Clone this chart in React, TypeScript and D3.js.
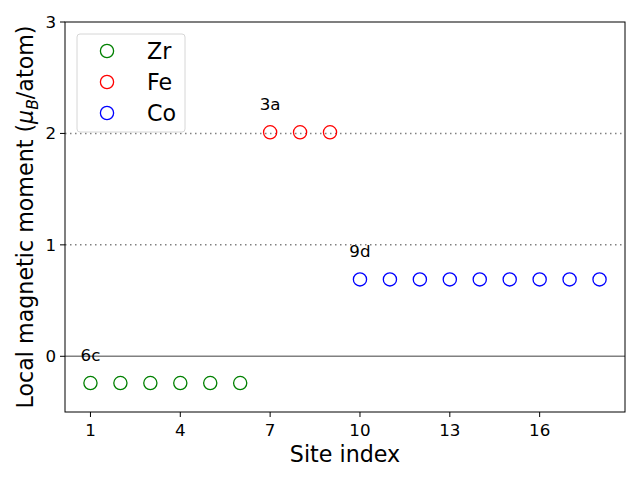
import React from "react";
import * as d3 from "d3";

const zrSites = [1, 2, 3, 4, 5, 6];
const zrValues = [-0.24, -0.24, -0.24, -0.24, -0.24, -0.24];
const feSites = [7, 8, 9];
const feValues = [2.01, 2.01, 2.01];
const coSites = [10, 11, 12, 13, 14, 15, 16, 17, 18];
const coValues = [0.69, 0.69, 0.69, 0.69, 0.69, 0.69, 0.69, 0.69, 0.69];
const xTicks = [1, 4, 7, 10, 13, 16];
const yTicks = [0, 1, 2, 3];
const refLines = [1, 2];
const siteLabels = ["6c", "3a", "9d"];

const W = 640, H = 480;
const M = { left: 65, right: 625, top: 22, bottom: 412 };
const FONT = "DejaVu Sans, sans-serif";

export default function App() {
  const x = d3.scaleLinear().domain([0.15, 18.85]).range([M.left, M.right]);
  const y = d3.scaleLinear().domain([-0.5, 3]).range([M.bottom, M.top]);
  const groups = [
    { name: "Zr", color: "green", sites: zrSites, values: zrValues, label: siteLabels[0] },
    { name: "Fe", color: "red", sites: feSites, values: feValues, label: siteLabels[1] },
    { name: "Co", color: "blue", sites: coSites, values: coValues, label: siteLabels[2] },
  ];
  const r = 6.6;
  return (
    <svg width={W} height={H} style={{ position: "absolute", left: 0, top: 0, background: "white" }} fontFamily={FONT}>
      <rect width={W} height={H} fill="white" />
      <line x1={M.left} x2={M.right} y1={y(0)} y2={y(0)} stroke="#808080" strokeWidth={1.5} />
      {refLines.map((v) => (
        <line key={v} x1={M.left} x2={M.right} y1={y(v)} y2={y(v)} stroke="#808080" strokeWidth={1.5} strokeDasharray="1.5,3.5" />
      ))}
      {groups.map((g) => (
        <g key={g.name}>
          {g.sites.map((s, i) => (
            <circle key={s} cx={x(s)} cy={y(g.values[i])} r={r} fill="none" stroke={g.color} strokeWidth={1.3} />
          ))}
          <text x={x(g.sites[0])} y={y(g.values[0] + 0.2)} textAnchor="middle" fontSize={16.7}>{g.label}</text>
        </g>
      ))}
      <rect x={M.left} y={M.top} width={M.right - M.left} height={M.bottom - M.top} fill="none" stroke="black" strokeWidth={1} />
      {xTicks.map((t) => (
        <g key={t}>
          <line x1={x(t)} x2={x(t)} y1={M.bottom} y2={M.bottom + 5} stroke="black" />
          <text x={x(t)} y={M.bottom + 24} textAnchor="middle" fontSize={16.7}>{t}</text>
        </g>
      ))}
      {yTicks.map((t) => (
        <g key={t}>
          <line x1={M.left - 5} x2={M.left} y1={y(t)} y2={y(t)} stroke="black" />
          <text x={M.left - 9} y={y(t)} dy="0.36em" textAnchor="end" fontSize={16.7}>{t}</text>
        </g>
      ))}
      <text x={(M.left + M.right) / 2} y={462} textAnchor="middle" fontSize={22.2}>Site index</text>
      <text transform={`translate(33,${(M.top + M.bottom) / 2}) rotate(-90)`} textAnchor="middle" fontSize={22.2}>
        Local magnetic moment (<tspan fontStyle="italic">μ</tspan><tspan fontStyle="italic" fontSize={15.5} dy={5}>B</tspan><tspan dy={-5}>/atom)</tspan>
      </text>
      <rect x={77} y={34} width={108} height={98} rx={3} fill="white" fillOpacity={0.8} stroke="#d6d6d6" strokeWidth={1} />
      {groups.map((g, i) => (
        <g key={g.name}>
          <circle cx={107} cy={51 + i * 31} r={r} fill="none" stroke={g.color} strokeWidth={1.3} />
          <text x={147} y={51 + i * 31} dy="0.36em" fontSize={22.2}>{g.name}</text>
        </g>
      ))}
    </svg>
  );
}
